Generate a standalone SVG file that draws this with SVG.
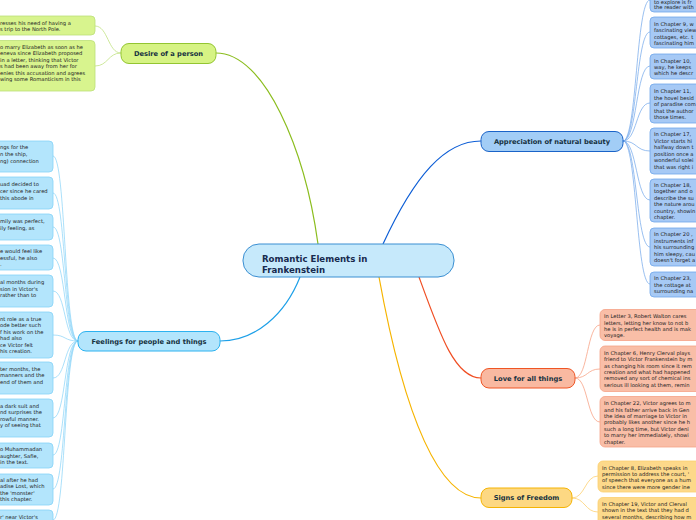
<svg xmlns="http://www.w3.org/2000/svg" width="696" height="520" viewBox="0 0 696 520">
<style>
.t{font-family:"DejaVu Sans",Verdana,sans-serif;font-size:5.2px;fill:#222}
.m{font-family:"DejaVu Sans",Verdana,sans-serif;font-size:6.7px;font-weight:bold;fill:#17323f;text-anchor:middle}
.c{font-family:"DejaVu Sans",Verdana,sans-serif;font-size:8.6px;font-weight:bold;fill:#172a4e}
.gn{fill:#d6f384;stroke:#93c531;stroke-width:1}
.gc{fill:#d8f48e;stroke:#bde07a;stroke-width:0.8}
.bn{fill:#b3e5fc;stroke:#2cb2f0;stroke-width:1}
.bc{fill:#b3e5fc;stroke:#86d3f8;stroke-width:0.8}
.an{fill:#a2cdf6;stroke:#1a63c8;stroke-width:1}
.ac{fill:#a6c9f5;stroke:#70a6ea;stroke-width:0.8}
.ln{fill:#f9b9a1;stroke:#ef5524;stroke-width:1}
.lc{fill:#f9bea7;stroke:#f5a287;stroke-width:0.8}
.sn{fill:#fdd883;stroke:#f5b405;stroke-width:1}
.sc{fill:#fdd98a;stroke:#fbcf6e;stroke-width:0.8}
path{fill:none}
</style>
<g id="connectors">
<path d="M318 244 C305 150 265 53 216 53" stroke="#8bbd1e" stroke-width="1.2"/>
<path d="M300 277 C285 315 255 341 220 341" stroke="#1ea0e8" stroke-width="1.2"/>
<path d="M383 244 C415 175 445 141 481 141" stroke="#0d5ed6" stroke-width="1.2"/>
<path d="M419 277 C440 335 455 378 481 378" stroke="#f04e23" stroke-width="1.2"/>
<path d="M379 277 C405 420 440 498 481 498" stroke="#f6b400" stroke-width="1.2"/>
<g stroke="#c2e283" stroke-width="0.8">
<path d="M121 53 C108 53 108 26 95 26"/>
<path d="M121 53 C108 53 108 66 95 66"/>
</g>
<g stroke="#86d3f8" stroke-width="0.7">
<path d="M78 341 C64 341 66 156 53 156"/>
<path d="M78 341 C64 341 66 193 53 193"/>
<path d="M78 341 C64 341 66 227 53 227"/>
<path d="M78 341 C64 341 66 258 53 258"/>
<path d="M78 341 C64 341 66 291 53 291"/>
<path d="M78 341 C64 341 66 335 53 335"/>
<path d="M78 341 C64 341 66 378 53 378"/>
<path d="M78 341 C64 341 66 418 53 418"/>
<path d="M78 341 C64 341 66 455 53 455"/>
<path d="M78 341 C64 341 66 489 53 489"/>
<path d="M78 341 C64 341 66 520 53 520"/>
</g>
<g stroke="#6fa5ea" stroke-width="0.7">
<path d="M623 141 C637 141 636 0 650 0"/>
<path d="M623 141 C637 141 636 32 650 32"/>
<path d="M623 141 C637 141 636 66 650 66"/>
<path d="M623 141 C637 141 636 103 650 103"/>
<path d="M623 141 C637 141 636 151 650 151"/>
<path d="M623 141 C637 141 636 200 650 200"/>
<path d="M623 141 C637 141 636 247 650 247"/>
<path d="M623 141 C637 141 636 284 650 284"/>
</g>
<g stroke="#f7a387" stroke-width="0.8">
<path d="M575 378 C588 378 587 325 600 325"/>
<path d="M575 378 C588 378 587 369 600 369"/>
<path d="M575 378 C588 378 587 422 600 422"/>
</g>
<g stroke="#fcd072" stroke-width="0.8">
<path d="M572 498 C585 498 585 476 598 476"/>
<path d="M572 498 C585 498 585 512 598 512"/>
</g>
</g>
<g id="central">
<rect x="243" y="244" width="211" height="33" rx="16" fill="#c6e9fb" stroke="#3b8fd2" stroke-width="1"/>
<text class="c" x="262" y="262">Romantic Elements in</text>
<text class="c" x="262" y="273">Frankenstein</text>
</g>
<g id="desire">
<rect class="gn" x="121" y="43.5" width="95" height="20" rx="8"/>
<text class="m" x="168.5" y="56">Desire of a person</text>
</g>
<g id="desire-1">
<rect class="gc" x="-10" y="16" width="105" height="19" rx="4"/>
<text class="t" x="0" y="25.3">resses his need of having a</text>
<text class="t" x="0" y="31.3">s trip to the North Pole.</text>
</g>
<g id="desire-2">
<rect class="gc" x="-10" y="40.5" width="105" height="50.5" rx="4"/>
<text class="t" x="0" y="49">o marry Elizabeth as soon as he</text>
<text class="t" x="0" y="55.3">eneva since Elizabeth proposed</text>
<text class="t" x="0" y="62">in a letter, thinking that Victor</text>
<text class="t" x="0" y="68">s had been away from her for</text>
<text class="t" x="0" y="74.7">enies this accusation and agrees</text>
<text class="t" x="0" y="81.3">wing some Romanticism in this</text>
</g>
<g id="feelings">
<rect class="bn" x="78" y="331.5" width="142" height="19.5" rx="8"/>
<text class="m" x="149" y="343.7">Feelings for people and things</text>
</g>
<g id="feel-1"><rect class="bc" x="-10" y="141" width="63" height="31" rx="4"/>
<text class="t" x="0" y="149.3">ngs for the</text><text class="t" x="0" y="156">n the ship,</text><text class="t" x="0" y="162.7">ng) connection</text></g>
<g id="feel-2"><rect class="bc" x="-10" y="177" width="63" height="32" rx="4"/>
<text class="t" x="0" y="186.3">uad decided to</text><text class="t" x="0" y="193">cer since he cared</text><text class="t" x="0" y="199.7">this abode in</text></g>
<g id="feel-3"><rect class="bc" x="-10" y="214" width="63" height="26" rx="4"/>
<text class="t" x="0" y="223">mily was perfect,</text><text class="t" x="0" y="229.7">ily feeling, as</text></g>
<g id="feel-4"><rect class="bc" x="-10" y="245" width="63" height="25" rx="4"/>
<text class="t" x="0" y="253">e would feel like</text><text class="t" x="0" y="259.7">essful, he also</text><text class="t" x="0" y="266.3">.</text></g>
<g id="feel-5"><rect class="bc" x="-10" y="275" width="63" height="32" rx="4"/>
<text class="t" x="0" y="284.3">al months during</text><text class="t" x="0" y="290.7">sion in Victor's</text><text class="t" x="0" y="297.3">rather than to</text></g>
<g id="feel-6"><rect class="bc" x="-10" y="312" width="63" height="46" rx="4"/>
<text class="t" x="0" y="321">nt role as a true</text><text class="t" x="0" y="327.3">ode better such</text><text class="t" x="0" y="334">f his work on the</text><text class="t" x="0" y="340.3">had also</text><text class="t" x="0" y="347">ce Victor felt</text><text class="t" x="0" y="353.3">his creation.</text></g>
<g id="feel-7"><rect class="bc" x="-10" y="362" width="63" height="32" rx="4"/>
<text class="t" x="0" y="371">ter months, the</text><text class="t" x="0" y="377.3">manners and the</text><text class="t" x="0" y="384">end of them and</text></g>
<g id="feel-8"><rect class="bc" x="-10" y="399" width="63" height="38" rx="4"/>
<text class="t" x="0" y="408">a dark suit and</text><text class="t" x="0" y="414.3">nd surprises the</text><text class="t" x="0" y="421">rowful manner.</text><text class="t" x="0" y="427.3">y of seeing that</text></g>
<g id="feel-9"><rect class="bc" x="-10" y="443" width="63" height="25" rx="4"/>
<text class="t" x="0" y="451">o Muhammadan</text><text class="t" x="0" y="457.7">aughter, Safie,</text><text class="t" x="0" y="464.3">in the text.</text></g>
<g id="feel-10"><rect class="bc" x="-10" y="474" width="63" height="31" rx="4"/>
<text class="t" x="0" y="482">al after he had</text><text class="t" x="0" y="488.3">adise Lost, which</text><text class="t" x="0" y="495">the 'monster'</text><text class="t" x="0" y="501.3">this chapter.</text></g>
<g id="feel-11"><rect class="bc" x="-10" y="510" width="63" height="30" rx="4"/>
<text class="t" x="0" y="519">r' near Victor's</text></g>
<g id="appreciation">
<rect class="an" x="481" y="131.5" width="142" height="20" rx="8"/>
<text class="m" x="552" y="144">Appreciation of natural beauty</text>
</g>
<g id="app-1"><rect class="ac" x="650" y="-20" width="60" height="32" rx="4"/>
<text class="t" x="654" y="3.6">to explore is fr</text><text class="t" x="654" y="9">the reader with</text></g>
<g id="app-2"><rect class="ac" x="650" y="17" width="60" height="31" rx="4"/>
<text class="t" x="654" y="26">In Chapter 9, w</text><text class="t" x="654" y="32.3">fascinating view</text><text class="t" x="654" y="38.7">cottages, etc. t</text><text class="t" x="654" y="45">fascinating him</text></g>
<g id="app-3"><rect class="ac" x="650" y="54" width="60" height="25" rx="4"/>
<text class="t" x="654" y="63">In Chapter 10,</text><text class="t" x="654" y="69">way, he keeps</text><text class="t" x="654" y="75.3">which he descr</text></g>
<g id="app-4"><rect class="ac" x="650" y="84" width="60" height="39" rx="4"/>
<text class="t" x="654" y="93">In Chapter 11,</text><text class="t" x="654" y="99.7">the hovel besid</text><text class="t" x="654" y="106.3">of paradise com</text><text class="t" x="654" y="113">that the author</text><text class="t" x="654" y="119.3">those times.</text></g>
<g id="app-5"><rect class="ac" x="650" y="128" width="60" height="46" rx="4"/>
<text class="t" x="654" y="136.3">In Chapter 17,</text><text class="t" x="654" y="142.7">Victor starts hi</text><text class="t" x="654" y="149">halfway down t</text><text class="t" x="654" y="155.5">position once a</text><text class="t" x="654" y="162">wonderful solei</text><text class="t" x="654" y="168.5">that was right i</text></g>
<g id="app-6"><rect class="ac" x="650" y="179" width="60" height="43" rx="4"/>
<text class="t" x="654" y="187">In Chapter 18,</text><text class="t" x="654" y="193.3">together and o</text><text class="t" x="654" y="200">describe the su</text><text class="t" x="654" y="206.3">the nature arou</text><text class="t" x="654" y="212.7">country, showin</text><text class="t" x="654" y="219">chapter.</text></g>
<g id="app-7"><rect class="ac" x="650" y="228" width="60" height="38" rx="4"/>
<text class="t" x="654" y="236">In Chapter 20 ,</text><text class="t" x="654" y="242.5">instruments inf</text><text class="t" x="654" y="249">his surrounding</text><text class="t" x="654" y="255.7">him sleepy, cau</text><text class="t" x="654" y="262">doesn't forget a</text></g>
<g id="app-8"><rect class="ac" x="650" y="272" width="60" height="25" rx="4"/>
<text class="t" x="654" y="280.3">In Chapter 23,</text><text class="t" x="654" y="286.7">the cottage at</text><text class="t" x="654" y="293">surrounding na</text></g>
<g id="love">
<rect class="ln" x="481" y="368.5" width="94" height="19.5" rx="8"/>
<text class="m" x="528" y="380.7">Love for all things</text>
</g>
<g id="love-1"><rect class="lc" x="600" y="309.5" width="110" height="31" rx="5"/>
<text class="t" x="604" y="318">In Letter 3, Robert Walton cares</text><text class="t" x="604" y="324.5">letters, letting her know to not b</text><text class="t" x="604" y="331">he is in perfect health and is mak</text><text class="t" x="604" y="337.3">voyage.</text></g>
<g id="love-2"><rect class="lc" x="600" y="346" width="110" height="45.5" rx="5"/>
<text class="t" x="604" y="354.7">In Chapter 6, Henry Clerval plays</text><text class="t" x="604" y="361">friend to Victor Frankenstein by m</text><text class="t" x="604" y="367.5">as changing his room since it rem</text><text class="t" x="604" y="373.8">creation and what had happened</text><text class="t" x="604" y="380.2">removed any sort of chemical ins</text><text class="t" x="604" y="386.6">serious ill looking at them, remin</text></g>
<g id="love-3"><rect class="lc" x="600" y="396.5" width="110" height="50.5" rx="5"/>
<text class="t" x="604" y="405.2">In Chapter 22, Victor agrees to m</text><text class="t" x="604" y="411.6">and his father arrive back in Gen</text><text class="t" x="604" y="418">the idea of marriage to Victor in</text><text class="t" x="604" y="424.4">probably likes another since he h</text><text class="t" x="604" y="430.8">such a long time, but Victor deni</text><text class="t" x="604" y="437.2">to marry her immediately, showi</text><text class="t" x="604" y="443.6">chapter.</text></g>
<g id="signs">
<rect class="sn" x="481" y="488" width="91" height="19.5" rx="8"/>
<text class="m" x="526.5" y="500.3">Signs of Freedom</text>
</g>
<g id="signs-1"><rect class="sc" x="598" y="461" width="110" height="31" rx="5"/>
<text class="t" x="602" y="469.6">In Chapter 8, Elizabeth speaks in</text><text class="t" x="602" y="476">permission to address the court, '</text><text class="t" x="602" y="482.4">of speech that everyone as a hum</text><text class="t" x="602" y="488.8">since there were more gender ine</text></g>
<g id="signs-2"><rect class="sc" x="598" y="497.5" width="110" height="40" rx="5"/>
<text class="t" x="602" y="506">In Chapter 19, Victor and Clerval</text><text class="t" x="602" y="512.4">shown in the text that they had d</text><text class="t" x="602" y="518.8">several months, describing how m</text></g>
</svg>
